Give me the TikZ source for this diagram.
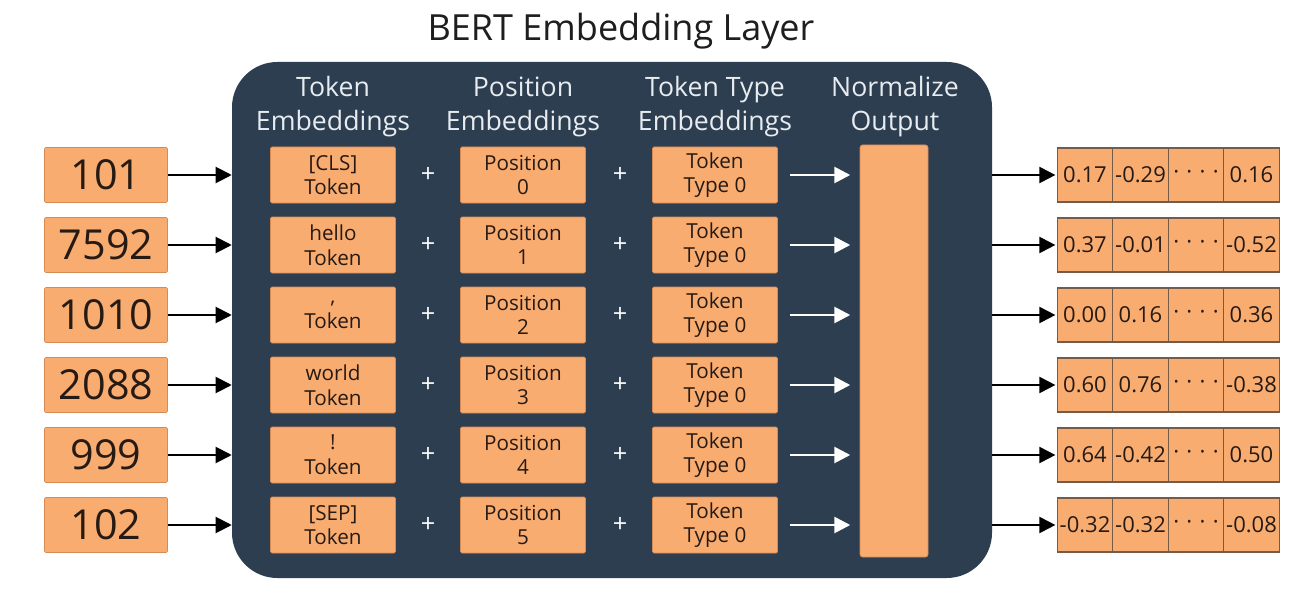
\documentclass[tikz,border=0pt]{standalone}
\usepackage{fontspec}
\setmainfont{Open Sans}
\usetikzlibrary{arrows.meta}
\definecolor{panelc}{RGB}{44,62,80}
\definecolor{org}{RGB}{248,172,112}
\definecolor{orgdark}{RGB}{214,138,84}
\definecolor{cellline}{RGB}{118,92,72}
\definecolor{txt}{RGB}{38,26,20}
\definecolor{hdr}{RGB}{232,236,240}
\begin{document}
\begin{tikzpicture}[x=0.75pt,y=-0.75pt,
  inbox/.style={fill=org, draw=orgdark, line width=0.4pt, rounded corners=1pt, minimum width=92.25pt, minimum height=41.25pt, inner sep=0pt, text=txt, font=\fontsize{31}{31}\selectfont},
  embbox/.style={fill=org, draw=orgdark, line width=0.6pt, rounded corners=1pt, minimum width=93.75pt, minimum height=42pt, inner sep=0pt, align=center, text=txt, font=\fontsize{15.5}{18.5}\selectfont},
  cellbox/.style={fill=org, draw=cellline, line width=0.8pt, minimum width=41.6pt, minimum height=40.5pt, inner sep=0pt, text=txt, font=\fontsize{16.5}{16.5}\selectfont},
  hdrtext/.style={text=hdr, align=center, font=\fontsize{20}{25.5}\selectfont},
  plustext/.style={text=white, font=\fontsize{19}{19}\selectfont},
  blkarrow/.style={draw=black, line width=1.5pt, -{Triangle[length=12pt,width=12pt]}},
  whtarrow/.style={draw=white, line width=2pt, -{Triangle[length=12pt,width=12pt]}}
]
\useasboundingbox[fill=white] (0,0) rectangle (1312,606);
\node[text={rgb,255:red,30;green,30;blue,30}, font=\fontsize{27}{27}\selectfont] (title) at (621,31) {BERT Embedding Layer};
\node[fill=panelc, rounded corners=34pt, minimum width=570pt, minimum height=387pt, inner sep=0pt] (panel) at (612,320) {};
\node[hdrtext] (h1) at (333,107) {Token\\Embeddings};
\node[hdrtext] (h2) at (523,107) {Position\\Embeddings};
\node[hdrtext] (h3) at (715,107) {Token Type\\Embeddings};
\node[hdrtext] (h4) at (895,107) {Normalize\\Output};
\node[fill=org, draw=orgdark, line width=0.6pt, rounded corners=2pt, minimum width=51pt, minimum height=309pt, inner sep=0pt] (norm) at (894,351) {};
\foreach \i/\num/\tok/\a/\b/\c/\d [count=\r from 0] in {
  1/101/{[CLS]}/0.17/-0.29/0.16/,
  2/7592/hello/0.37/-0.01/-0.52/,
  3/1010/{,}/0.00/0.16/0.36/,
  4/2088/world/0.60/0.76/-0.38/,
  5/999/!/0.64/-0.42/0.50/,
  6/102/{[SEP]}/-0.32/-0.32/-0.08/}{
  \pgfmathsetmacro{\yy}{175+70*\r}
  \node[inbox] (in\i) at (106,\yy) {\num};
  \node[embbox] (tok\i) at (333,\yy) {\tok\\Token};
  \node[plustext] (pa\i) at (428,\yy) {+};
  \node[embbox] (pos\i) at (523,\yy) {Position\\\r};
  \node[plustext] (pb\i) at (620,\yy) {+};
  \node[embbox] (typ\i) at (715,\yy) {Token\\Type 0};
  \node[cellbox] (oa\i) at (1085,\yy) {\a};
  \node[cellbox] (ob\i) at (1140.5,\yy) {\b};
  \node[cellbox] (oc\i) at (1196,\yy) {·\,\,·\,\,·\,\,·};
  \node[cellbox] (od\i) at (1251.5,\yy) {\c};
  \draw[blkarrow] (in\i.east) -- (in\i.east -| panel.west);
  \draw[whtarrow] ([xshift=9pt]typ\i.east) -- ([xshift=-7pt]typ\i.east -| norm.west);
  \draw[blkarrow] (oa\i.west -| panel.east) -- ([xshift=-1pt]oa\i.west);
}
\end{tikzpicture}
\end{document}
